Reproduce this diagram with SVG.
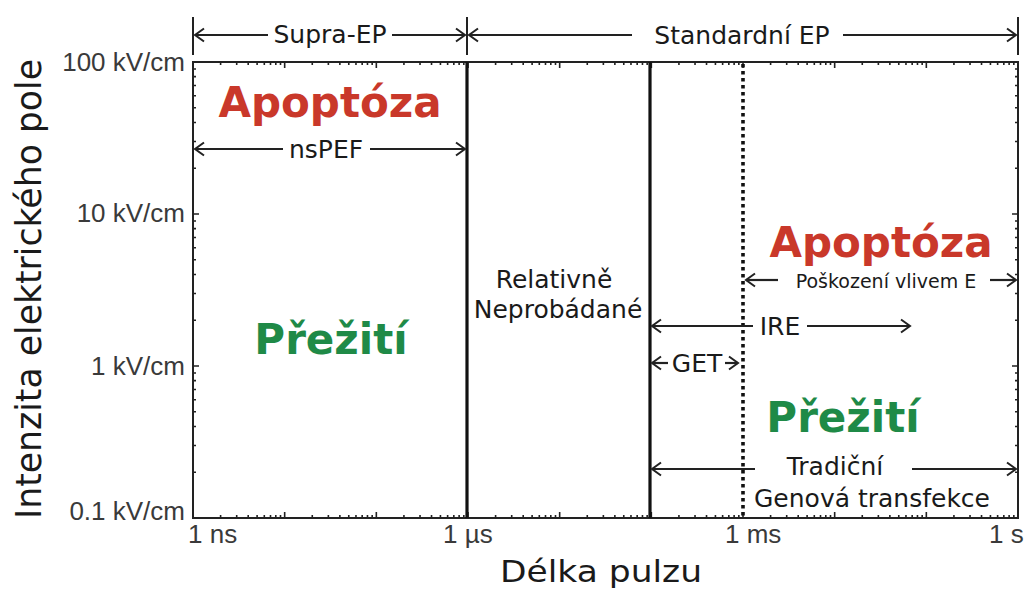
<svg xmlns="http://www.w3.org/2000/svg" xmlns:xlink="http://www.w3.org/1999/xlink" width="1026" height="589" viewBox="0 0 1026 589">
<style>
.frame{fill:none;stroke:#222;stroke-width:2}
.tick{fill:none;stroke:#222;stroke-width:1.6}
.thick{stroke:#111;stroke-width:3.2}
.dot{stroke:#111;stroke-width:3.6;stroke-dasharray:3.5 3.5}
.arr{fill:none;stroke:#222;stroke-width:2.2}
.bar{stroke:#222;stroke-width:2}
.lbl{font-family:"DejaVu Sans",Verdana,sans-serif;font-size:25px;fill:#1a1a1a;text-anchor:middle}
.small{font-size:19px}
.ax{font-family:"Liberation Sans",Arial,sans-serif;font-size:26px;fill:#3a3a3a}
.big{font-family:"DejaVu Sans",Verdana,sans-serif;font-weight:bold;font-size:42px;text-anchor:middle}
.red{fill:#c9382a}
.grn{fill:#1f8a47}
.title{font-family:"DejaVu Sans",Verdana,sans-serif;fill:#1a1a1a}
</style>
<defs>
<marker id="ah" viewBox="-11 -8 13 16" markerWidth="13" markerHeight="16" refX="0" refY="0" orient="auto-start-reverse" markerUnits="userSpaceOnUse">
<path d="M-9,-6.5 L0,0 L-9,6.5" fill="none" stroke="#222" stroke-width="2"/>
</marker>
<path id="xt" class="tick" d="M0 0v-6M27.6 0v-3M43.7 0v-3M55.2 0v-3M64.1 0v-3M71.3 0v-3M77.5 0v-3M82.8 0v-3M87.5 0v-3"/>
<path id="yt" class="tick" d="M0 0h6M0 -45.8h3M0 -72.5h3M0 -91.5h3M0 -106.2h3M0 -118.3h3M0 -128.5h3M0 -137.4h3M0 -145h3"/>
</defs>

<g id="axes">
<rect class="frame" x="193" y="62" width="825" height="456"/>
<g id="ticks-bottom">
<use xlink:href="#xt" href="#xt" transform="translate(193,518)"/>
<use xlink:href="#xt" href="#xt" transform="translate(284.67,518)"/>
<use xlink:href="#xt" href="#xt" transform="translate(376.33,518)"/>
<use xlink:href="#xt" href="#xt" transform="translate(468,518)"/>
<use xlink:href="#xt" href="#xt" transform="translate(559.67,518)"/>
<use xlink:href="#xt" href="#xt" transform="translate(651.33,518)"/>
<use xlink:href="#xt" href="#xt" transform="translate(743,518)"/>
<use xlink:href="#xt" href="#xt" transform="translate(834.67,518)"/>
<use xlink:href="#xt" href="#xt" transform="translate(926.33,518)"/>
</g>
<g id="ticks-top">
<use xlink:href="#xt" href="#xt" transform="translate(193,62) scale(1,-1)"/>
<use xlink:href="#xt" href="#xt" transform="translate(284.67,62) scale(1,-1)"/>
<use xlink:href="#xt" href="#xt" transform="translate(376.33,62) scale(1,-1)"/>
<use xlink:href="#xt" href="#xt" transform="translate(468,62) scale(1,-1)"/>
<use xlink:href="#xt" href="#xt" transform="translate(559.67,62) scale(1,-1)"/>
<use xlink:href="#xt" href="#xt" transform="translate(651.33,62) scale(1,-1)"/>
<use xlink:href="#xt" href="#xt" transform="translate(743,62) scale(1,-1)"/>
<use xlink:href="#xt" href="#xt" transform="translate(834.67,62) scale(1,-1)"/>
<use xlink:href="#xt" href="#xt" transform="translate(926.33,62) scale(1,-1)"/>
</g>
<g id="ticks-left">
<use xlink:href="#yt" href="#yt" transform="translate(193,518)"/>
<use xlink:href="#yt" href="#yt" transform="translate(193,366)"/>
<use xlink:href="#yt" href="#yt" transform="translate(193,214)"/>
</g>
<g id="ticks-right">
<use xlink:href="#yt" href="#yt" transform="translate(1018,518) scale(-1,1)"/>
<use xlink:href="#yt" href="#yt" transform="translate(1018,366) scale(-1,1)"/>
<use xlink:href="#yt" href="#yt" transform="translate(1018,214) scale(-1,1)"/>
</g>
<g id="tick-labels">
<text class="ax" x="185" y="71" text-anchor="end">100 kV/cm</text>
<text class="ax" x="185" y="222" text-anchor="end">10 kV/cm</text>
<text class="ax" x="185" y="375" text-anchor="end">1 kV/cm</text>
<text class="ax" x="185" y="520" text-anchor="end">0.1 kV/cm</text>
<text class="ax" x="188" y="543">1 ns</text>
<text class="ax" x="443" y="543">1 µs</text>
<text class="ax" x="725" y="543">1 ms</text>
<text class="ax" x="989" y="543">1 s</text>
</g>
<text class="title" font-size="35" textLength="460" lengthAdjust="spacingAndGlyphs" text-anchor="middle" transform="translate(41,289) rotate(-90)">Intenzita elektrického pole</text>
<text class="title" x="601" y="582" font-size="31" textLength="202" lengthAdjust="spacingAndGlyphs" text-anchor="middle">Délka pulzu</text>
</g>

<g id="boundaries">
<line class="thick" x1="467" y1="62" x2="467" y2="518"/>
<line class="thick" x1="650" y1="62" x2="650" y2="518"/>
<line class="dot" x1="743" y1="64" x2="743" y2="518"/>
<line class="bar" x1="193" y1="17" x2="193" y2="55"/>
<line class="bar" x1="467" y1="17" x2="467" y2="55"/>
<line class="bar" x1="1018" y1="17" x2="1018" y2="55"/>
</g>

<g id="connectors">
<path class="arr" d="M195 35H268" marker-start="url(#ah)"/>
<path class="arr" d="M392 35H465" marker-end="url(#ah)"/>
<path class="arr" d="M469 35H632" marker-start="url(#ah)"/>
<path class="arr" d="M843 35H1016" marker-end="url(#ah)"/>
<path class="arr" d="M195 149H283" marker-start="url(#ah)"/>
<path class="arr" d="M370 149H465" marker-end="url(#ah)"/>
<path class="arr" d="M746 280H778" marker-start="url(#ah)"/>
<path class="arr" d="M990 280H1016" marker-end="url(#ah)"/>
<path class="arr" d="M652 326H753" marker-start="url(#ah)"/>
<path class="arr" d="M807 326H910" marker-end="url(#ah)"/>
<path class="arr" d="M652 363H668" marker-start="url(#ah)"/>
<path class="arr" d="M725 363H738" marker-end="url(#ah)"/>
<path class="arr" d="M652 469H755" marker-start="url(#ah)"/>
<path class="arr" d="M912 469H1016" marker-end="url(#ah)"/>
</g>

<g id="supra-ep"><text class="lbl" x="330" y="43">Supra-EP</text></g>
<g id="standardni-ep"><text class="lbl" x="742" y="44">Standardní EP</text></g>
<g id="nspef"><text class="lbl" x="326" y="158">nsPEF</text></g>
<g id="apoptoza-left"><text class="big red" x="330" y="117">Apoptóza</text></g>
<g id="preziti-left"><text class="big grn" x="331" y="354">Přežití</text></g>
<g id="relativne"><text class="lbl" x="554" y="288">Relativně</text><text class="lbl" x="558" y="318">Neprobádané</text></g>
<g id="apoptoza-right"><text class="big red" x="881" y="257">Apoptóza</text></g>
<g id="poskozeni"><text class="lbl small" x="886" y="288">Poškození vlivem E</text></g>
<g id="ire"><text class="lbl" x="780" y="335">IRE</text></g>
<g id="get"><text class="lbl" x="697" y="372">GET</text></g>
<g id="preziti-right"><text class="big grn" x="843" y="432">Přežití</text></g>
<g id="tradicni"><text class="lbl" x="835" y="475">Tradiční</text><text class="lbl" x="872" y="507">Genová transfekce</text></g>
</svg>
